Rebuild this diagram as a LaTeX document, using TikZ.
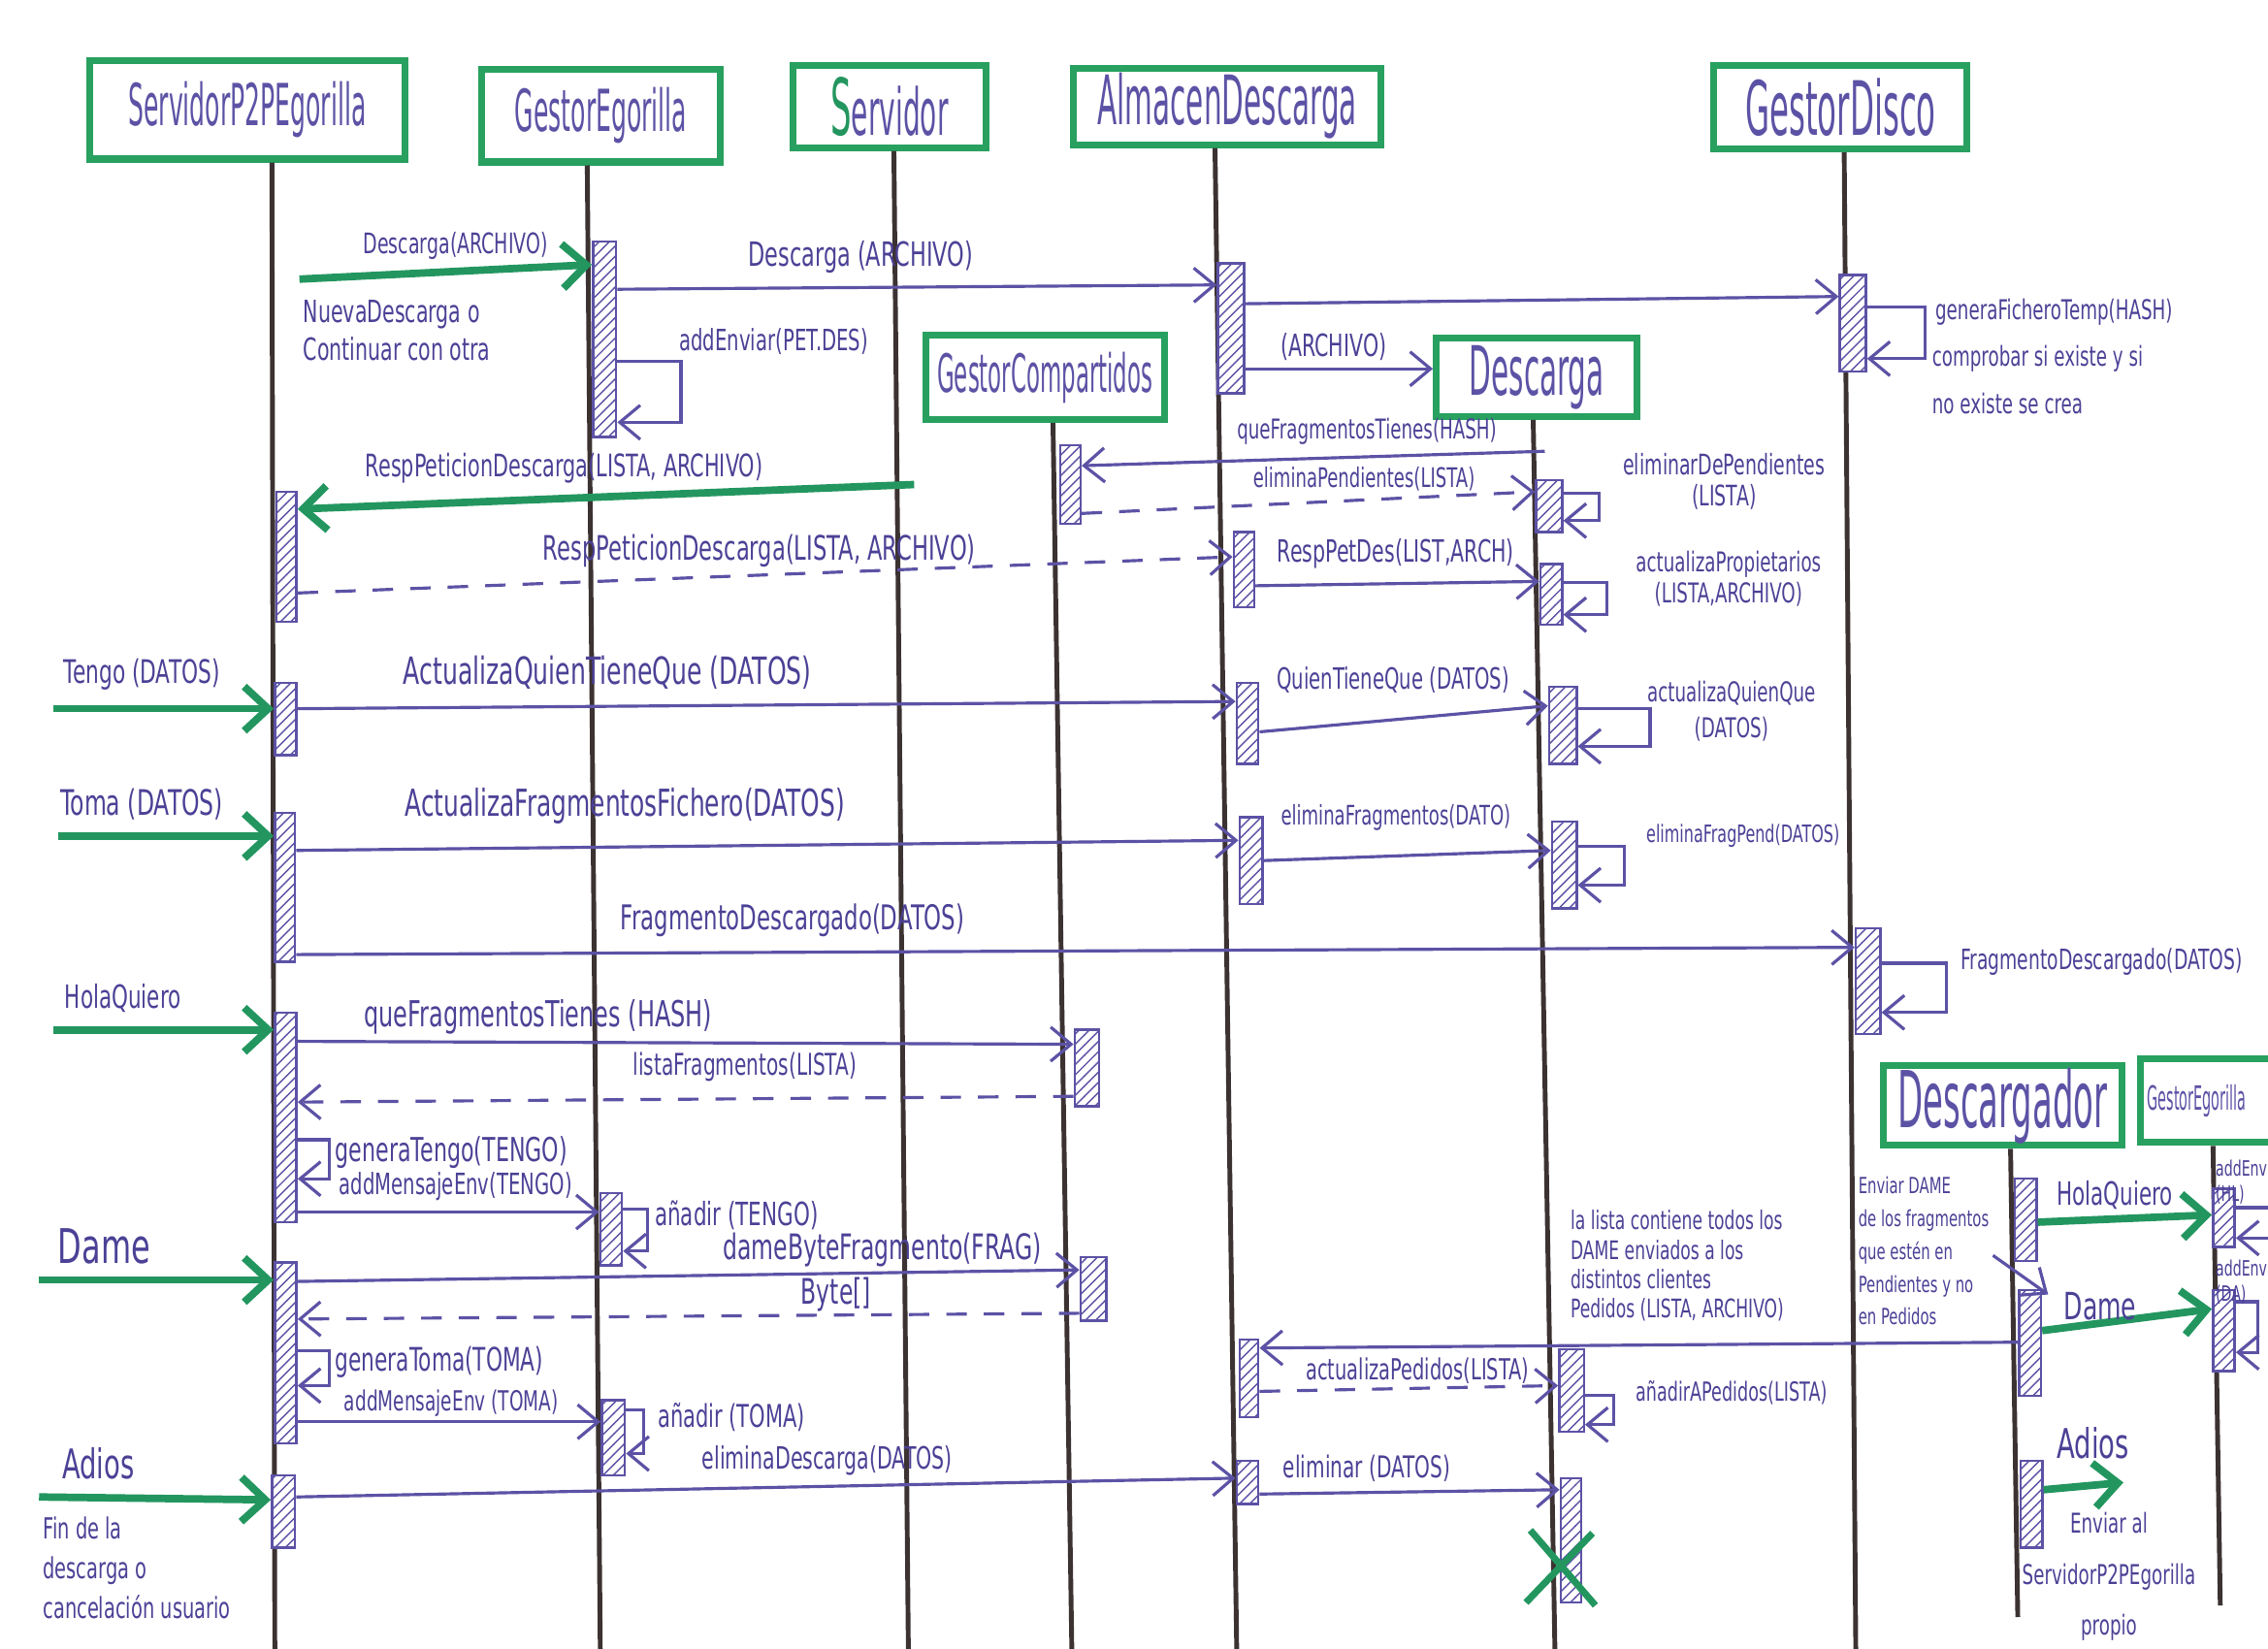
\documentclass[tikz,border=0pt]{standalone}
\usepackage{fontspec}
\newfontfamily\hand[FakeStretch=0.65]{DejaVu Sans}
\newfontfamily\handt[FakeStretch=0.42]{DejaVu Sans}
\usetikzlibrary{arrows.meta,patterns,fit}
\definecolor{boxgreen}{RGB}{40,160,95}
\definecolor{extgreen}{RGB}{35,150,95}
\definecolor{ink}{RGB}{92,82,165}
\definecolor{inktext}{RGB}{75,65,150}
\definecolor{lifecol}{RGB}{60,50,50}
\begin{document}
\begin{tikzpicture}[x=0.1491mm,y=-0.1491mm,
  obj/.style={draw=boxgreen,line width=2pt,fill=white,inner sep=0pt},
  objt/.style={text=ink,inner sep=0pt,font=\handt\fontsize{#1}{#1}\selectfont},
  life/.style={draw=lifecol,line width=1.4pt},
  act/.style={draw=ink,line width=0.7pt,preaction={fill=white},pattern=north east lines,pattern color=ink,inner sep=0pt},
  msg/.style={draw=ink,line width=0.9pt,-{Straight Barb[length=6pt,width=10pt]}},
  ret/.style={msg,dash pattern=on 6pt off 5pt},
  ext/.style={draw=extgreen,line width=2.2pt,-{Straight Barb[length=7pt,width=13pt]}},
  xmark/.style={draw=extgreen,line width=2pt},
  lbl/.style={text=inktext,inner sep=1pt,font=\hand\fontsize{#1}{#1}\selectfont},
  note/.style={text=inktext,inner sep=1pt,align=left,anchor=north west},
  cnote/.style={text=inktext,inner sep=1pt,align=center}
]
\clip (0,0) rectangle (1568,1140);
\fill[white] (0,0) rectangle (1568,1140);

\node[obj,fit={(62,42)(280,110)}] (sp2p) {};
\node[obj,fit={(333,48)(498,112)}] (gegor) {};
\node[obj,fit={(548,45)(682,102)}] (serv) {};
\node[obj,fit={(742,47)(955,100)}] (almd) {};
\node[obj,fit={(1185,45)(1360,103)}] (gdisco) {};
\node[obj,fit={(640,232)(805,290)}] (gcomp) {};
\node[obj,fit={(993,234)(1132,288)}] (desc) {};
\node[obj,fit={(1302,737)(1467,792)}] (dcgdor) {};
\node[obj,fit={(1480,732)(1600,790)}] (gegor2) {};
\node[objt=17] (sp2pT) at (sp2p) {ServidorP2PEgorilla};
\node[objt=17] (gegorT) at (gegor) {GestorEgorilla};
\node[objt=19] (servT) at (serv) {{\color{extgreen}\fontsize{23}{23}\selectfont S}ervidor};
\node[objt=20] (almdT) at (almd) {AlmacenDescarga};
\node[objt=22] (gdiscoT) at (gdisco) {GestorDisco};
\node[objt=15.5] (gcompT) at (gcomp) {GestorCompartidos};
\node[objt=20] (descT) at (desc) {Descarga};
\node[objt=23] (dcgdorT) at (dcgdor) {Descargador};
\node[objt=9.8,anchor=west] (gegor2T) at (1484,761) {GestorEgorilla};

\draw[life] (188,0 |- sp2p.south) -- (190,1140);
\draw[life] (406,0 |- gegor.south) -- (415,1140);
\draw[life] (618,0 |- serv.south) -- (628,1140);
\draw[life] (840,0 |- almd.south) -- (855,1140);
\draw[life] (1275,0 |- gdisco.south) -- (1283,1140);
\draw[life] (728,0 |- gcomp.south) -- (741,1140);
\draw[life] (1060,0 |- desc.south) -- (1075,1140);
\draw[life] (1390,0 |- dcgdor.south) -- (1395,1118);
\draw[life] (1530,0 |- gegor2.south) -- (1535,1110);

\node[act,fit={(191,340)(205,430)}] (s1) {};
\node[act,fit={(190,472)(205,522)}] (s2) {};
\node[act,fit={(190,562)(204,665)}] (s3) {};
\node[act,fit={(190,700)(205,845)}] (s4) {};
\node[act,fit={(190,873)(205,998)}] (s5) {};
\node[act,fit={(188,1020)(204,1070)}] (s6) {};
\node[act,fit={(410,167)(426,302)}] (g1) {};
\node[act,fit={(415,825)(430,875)}] (g2) {};
\node[act,fit={(416,968)(432,1020)}] (g3) {};
\node[act,fit={(733,308)(747,362)}] (c1) {};
\node[act,fit={(743,712)(760,765)}] (c2) {};
\node[act,fit={(747,869)(765,913)}] (c3) {};
\node[act,fit={(842,182)(860,272)}] (a1) {};
\node[act,fit={(853,368)(867,420)}] (a2) {};
\node[act,fit={(855,472)(870,528)}] (a3) {};
\node[act,fit={(857,565)(873,625)}] (a4) {};
\node[act,fit={(857,926)(870,980)}] (a5) {};
\node[act,fit={(855,1010)(870,1040)}] (a6) {};
\node[act,fit={(1062,332)(1080,368)}] (d1) {};
\node[act,fit={(1065,390)(1080,432)}] (d2) {};
\node[act,fit={(1071,475)(1090,528)}] (d3) {};
\node[act,fit={(1073,568)(1090,628)}] (d4) {};
\node[act,fit={(1078,933)(1095,990)}] (d5) {};
\node[act,fit={(1079,1022)(1093,1108)}] (d6) {};
\node[act,fit={(1272,190)(1290,257)}] (k1) {};
\node[act,fit={(1283,642)(1300,715)}] (k2) {};
\node[act,fit={(1393,815)(1408,872)}] (r1) {};
\node[act,fit={(1396,892)(1411,965)}] (r2) {};
\node[act,fit={(1397,1010)(1412,1070)}] (r3) {};
\node[act,fit={(1530,822)(1545,862)}] (e1) {};
\node[act,fit={(1530,892)(1545,948)}] (e2) {};

\coordinate (inDesc) at (207,193);
\coordinate (srvResp) at (632,335);
\coordinate (descQ) at (1068,312);
\coordinate (inTengo) at (37,490);
\coordinate (inToma) at (40,578);
\coordinate (inHola) at (37,712);
\coordinate (inDame) at (27,885);
\coordinate (inAdios) at (27,1035);
\coordinate (dameTip) at (1416,895);
\coordinate (adiosTip) at (1468,1025);

\draw[ext] (inDesc) -- (g1.west |- 0,183);
\draw[msg] (g1.east |- 0,200) -- (a1.west |- 0,197);
\draw[msg] (g1.east |- 0,250) -- ++(44,0) |- (g1.east |- 0,292);
\draw[msg] (a1.east |- 0,210) -- (k1.west |- 0,205);
\draw[msg] (k1.east |- 0,212) -- ++(40,0) |- (k1.east |- 0,248);
\draw[msg] (a1.east |- 0,255) -- (desc.west |- 0,255);
\draw[msg] (descQ) -- (c1.east |- 0,322);
\draw[ret] (c1.east |- 0,355) -- (d1.west |- 0,340);
\draw[msg] (d1.east |- 0,341) -- ++(25,0) |- (d1.east |- 0,360);
\draw[ext] (srvResp) -- (s1.east |- 0,352);
\draw[ret] (s1.east |- 0,410) -- (a2.west |- 0,385);
\draw[msg] (a2.east |- 0,405) -- (d2.west |- 0,402);
\draw[msg] (d2.east |- 0,403) -- ++(30,0) |- (d2.east |- 0,425);
\draw[ext] (inTengo) -- (s2.west |- inTengo);
\draw[msg] (s2.east |- 0,490) -- (a3.west |- 0,485);
\draw[msg] (a3.east |- 0,506) -- (d3.west |- 0,488);
\draw[msg] (d3.east |- 0,490) -- ++(50,0) |- (d3.east |- 0,516);
\draw[ext] (inToma) -- (s3.west |- inToma);
\draw[msg] (s3.east |- 0,588) -- (a4.west |- 0,581);
\draw[msg] (a4.east |- 0,595) -- (d4.west |- 0,588);
\draw[msg] (d4.east |- 0,585) -- ++(32,0) |- (d4.east |- 0,612);
\draw[msg] (s3.east |- 0,660) -- (k2.west |- 0,655);
\draw[msg] (k2.east |- 0,666) -- ++(45,0) |- (k2.east |- 0,700);
\draw[ext] (inHola) -- (s4.west |- inHola);
\draw[msg] (s4.east |- 0,720) -- (c2.west |- 0,722);
\draw[ret] (c2.west |- 0,758) -- (s4.east |- 0,762);
\draw[msg] (s4.east |- 0,788) -- ++(22,0) |- (s4.east |- 0,815);
\draw[msg] (s4.east |- 0,838) -- (g2.west |- 0,838);
\draw[msg] (g2.east |- 0,836) -- ++(17,0) |- (g2.east |- 0,865);
\draw[ext] (inDame) -- (s5.west |- inDame);
\draw[msg] (s5.east |- 0,886) -- (c3.west |- 0,878);
\draw[ret] (c3.west |- 0,908) -- (s5.east |- 0,912);
\draw[msg] (s5.east |- 0,934) -- ++(22,0) |- (s5.east |- 0,958);
\draw[msg] (s5.east |- 0,983) -- (g3.west |- 0,983);
\draw[msg] (g3.east |- 0,975) -- ++(12,0) |- (g3.east |- 0,1005);
\draw[ext] (inAdios) -- (s6.west |- 0,1037);
\draw[msg] (s6.east |- 0,1035) -- (a6.west |- 0,1022);
\draw[msg] (a6.east |- 0,1033) -- (d6.west |- 0,1030);
\draw[xmark] (1058,1058) -- (1103,1110) (1101,1060) -- (1055,1108);
\draw[msg] (r2.west |- 0,928) -- (a5.east |- 0,932);
\draw[ret] (a5.east |- 0,962) -- (d5.west |- 0,958);
\draw[msg] (d5.east |- 0,965) -- ++(20,0) |- (d5.east |- 0,985);
\draw[ext] (r1.east |- 0,845) -- (e1.west |- 0,840);
\draw[msg] (e1.east |- 0,835) -- ++(25,0) |- (e1.east |- 0,856);
\draw[ext] (r2.east |- 0,920) -- (e2.west |- 0,905);
\draw[msg] (e2.east |- 0,900) -- ++(15,0) |- (e2.east |- 0,935);
\draw[ext] (r3.east |- 0,1030) -- (adiosTip);

\node[lbl=8.3] (m1) at (315,170) {Descarga(ARCHIVO)};
\node[note,font=\hand\fontsize{9}{11}\selectfont] (n1) at (207,205) {NuevaDescarga o\\Continuar con otra};
\node[lbl=9.8] (m2) at (595,178) {Descarga (ARCHIVO)};
\node[lbl=8.6] (m3) at (535,236) {addEnviar(PET.DES)};
\node[lbl=8] (m4) at (1420,216) {generaFicheroTemp(HASH)};
\node[note,font=\hand\fontsize{8}{14}\selectfont] (n2) at (1333,236) {comprobar si existe y si\\no existe se crea};
\node[lbl=9] (m5) at (922,240) {(ARCHIVO)};
\node[lbl=8] (m6) at (945,298) {queFragmentosTienes(HASH)};
\node[lbl=7.9] (m7) at (943,331) {eliminaPendientes(LISTA)};
\node[cnote,font=\hand\fontsize{8.3}{9}\selectfont] (m8) at (1192,333) {eliminarDePendientes\\(LISTA)};
\node[lbl=9.1] (m9) at (390,324) {RespPeticionDescarga(LISTA, ARCHIVO)};
\node[lbl=9.9] (m10) at (525,381) {RespPeticionDescarga(LISTA, ARCHIVO)};
\node[lbl=9] (m11) at (965,383) {RespPetDes(LIST,ARCH)};
\node[cnote,font=\hand\fontsize{8}{9}\selectfont] (m12) at (1195,400) {actualizaPropietarios\\(LISTA,ARCHIVO)};
\node[lbl=9.5] (m13) at (98,466) {Tengo (DATOS)};
\node[lbl=11] (m14) at (420,465) {ActualizaQuienTieneQue (DATOS)};
\node[lbl=8.6] (m15) at (963,470) {QuienTieneQue (DATOS)};
\node[cnote,font=\hand\fontsize{8}{10.5}\selectfont] (m16) at (1197,492) {actualizaQuienQue\\(DATOS)};
\node[lbl=10.3] (m17) at (98,556) {Toma (DATOS)};
\node[lbl=10.9] (m18) at (432,557) {ActualizaFragmentosFichero(DATOS)};
\node[lbl=7.9] (m19) at (965,565) {eliminaFragmentos(DATO)};
\node[lbl=7] (m20) at (1205,578) {eliminaFragPend(DATOS)};
\node[lbl=10] (m21) at (548,636) {FragmentoDescargado(DATOS)};
\node[lbl=8.2] (m22) at (1453,665) {FragmentoDescargado(DATOS)};
\node[lbl=9.4] (m23) at (85,690) {HolaQuiero};
\node[lbl=10.5] (m24) at (372,703) {queFragmentosTienes (HASH)};
\node[lbl=8.8] (m25) at (515,738) {listaFragmentos(LISTA)};
\node[lbl=9.7,anchor=west] (m26) at (229,797) {generaTengo(TENGO)};
\node[lbl=8.6] (m27) at (315,820) {addMensajeEnv(TENGO)};
\node[lbl=9.4,anchor=west] (m28) at (450,840) {añadir (TENGO)};
\node[lbl=14] (m29) at (72,862) {Dame};
\node[lbl=10.3] (m30) at (610,864) {dameByteFragmento(FRAG)};
\node[lbl=10.3] (m31) at (578,895) {Byte[]};
\node[lbl=9.5,anchor=west] (m32) at (229,942) {generaToma(TOMA)};
\node[lbl=8.1] (m33) at (312,970) {addMensajeEnv (TOMA)};
\node[lbl=9.2,anchor=west] (m34) at (452,980) {añadir (TOMA)};
\node[lbl=12] (m35) at (68,1012) {Adios};
\node[note,font=\hand\fontsize{8.5}{11.6}\selectfont] (n3) at (27,1046) {Fin de la\\descarga o\\cancelación usuario};
\node[lbl=9] (m36) at (572,1010) {eliminaDescarga(DATOS)};
\node[lbl=8.8] (m37) at (945,1015) {eliminar (DATOS)};
\node[lbl=8.5] (m38) at (980,948) {actualizaPedidos(LISTA)};
\node[lbl=7.7] (m39) at (1197,963) {añadirAPedidos(LISTA)};
\node[note,font=\hand\fontsize{7.5}{8.6}\selectfont] (n4) at (1083,834) {la lista contiene todos los\\DAME enviados a los\\distintos clientes\\Pedidos (LISTA, ARCHIVO)};
\node[note,font=\hand\fontsize{6.5}{9.6}\selectfont] (n5) at (1282,811) {Enviar DAME\\de los fragmentos\\que estén en\\Pendientes y no\\en Pedidos};
\draw[msg] (n5.east |- 0,868) -- (dameTip);
\node[lbl=9.4] (m40) at (1462,826) {HolaQuiero};
\node[lbl=11] (m41) at (1452,903) {Dame};
\node[lbl=12] (m42) at (1447,998) {Adios};
\node[cnote,font=\hand\fontsize{8}{15}\selectfont] (n6) at (1458,1090) {Enviar al\\ServidorP2PEgorilla\\propio};
\node[note,font=\hand\fontsize{6.2}{7.5}\selectfont] (m43) at (1529,799) {addEnv\\(HL)};
\node[note,font=\hand\fontsize{6.2}{7.5}\selectfont] (m44) at (1529,868) {addEnv\\(DA)};
\end{tikzpicture}
\end{document}
